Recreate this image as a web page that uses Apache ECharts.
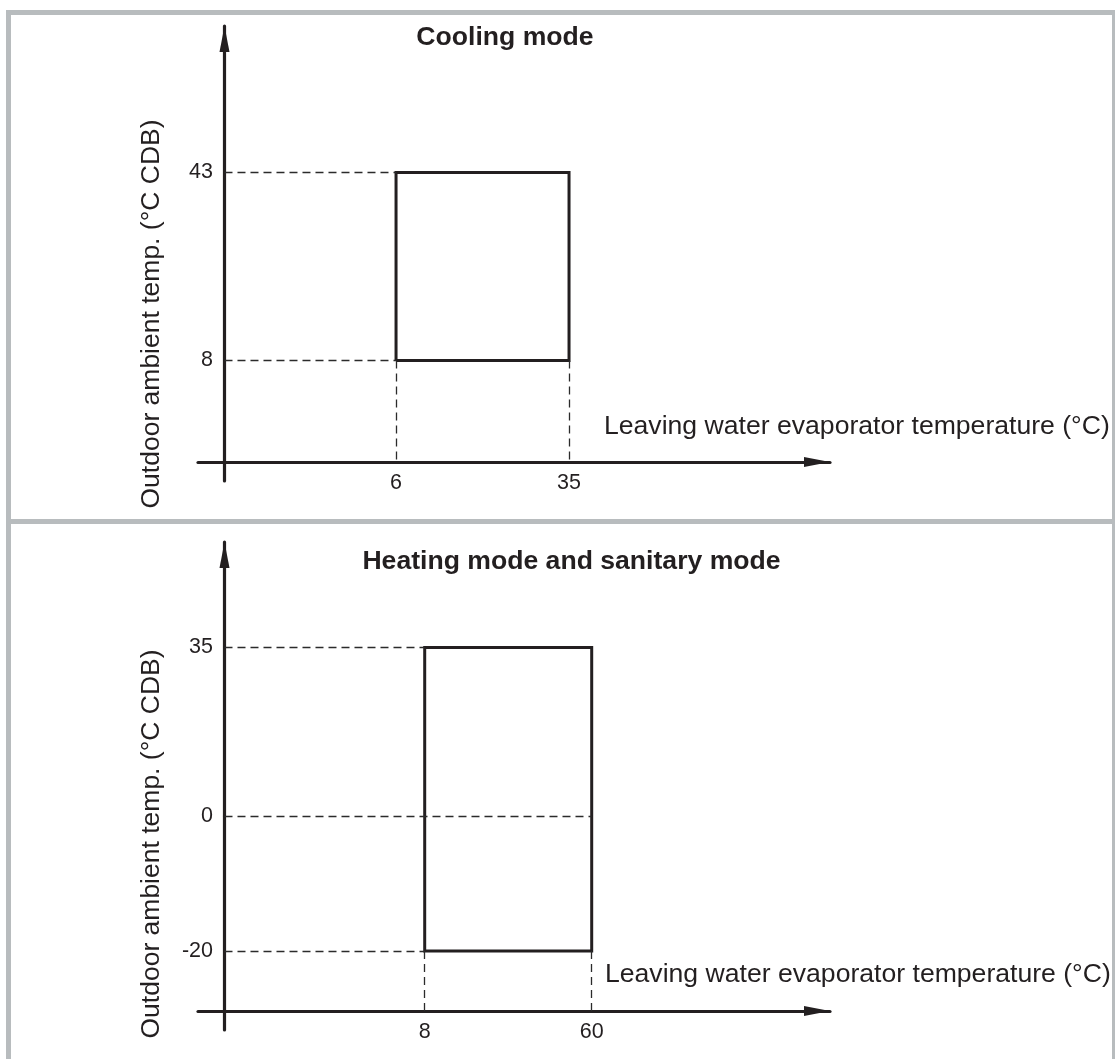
<!DOCTYPE html>
<html>
<head>
<meta charset="utf-8">
<script src="https://cdn.jsdelivr.net/npm/echarts@6/dist/echarts.min.js"></script>
<style>
  html, body { margin: 0; padding: 0; background: #ffffff; }
  #chart { width: 1115px; height: 1059px; }
</style>
</head>
<body>
<div id="chart"></div>
<script>
// Operating envelope, cooling mode
const coolingWaterTemp = [6, 35];      // leaving water, °C
const coolingAmbientTemp = [8, 43];    // outdoor ambient, °C
// Operating envelope, heating and sanitary mode
const heatingWaterTemp = [8, 60];
const heatingAmbientTemp = [-20, 35];
const heatingAmbientRef = 0;           // intermediate reference line
// Texts
const panelTitles = ['Cooling mode', 'Heating mode and sanitary mode'];
const xAxisName = 'Leaving water evaporator temperature (°C)';
const yAxisName = 'Outdoor ambient temp. (°C CDB)';

const INK = '#231f20';
const FRAME = '#b8bcbe';
const FONT = '"Liberation Sans", Arial, Helvetica, sans-serif';

// Axis extents; the axis lines cross at xCross / yCross (value units)
const coolAx = { xMin: -27.2, xMax: 78.75, yMin: -14.44, yMax: 70.28, xCross: -22.76, yCross: -10.9 };
// Heating panel uses a broken vertical scale: one grid above 0, one below
const heatAx = { xMin: -62.59, xMax: 134.2, yUpMax: 56.92, yLowMin: -31.7, xCross: -54.34, yCross: -28.89 };

function axisLineStyle(arrow) {
  return {
    show: true,
    onZero: false,
    lineStyle: { color: INK, width: 3.2 },
    symbol: arrow ? ['none', 'triangle'] : 'none',
    symbolSize: [10, 26],
    symbolOffset: [0, -13]
  };
}
function labelStyle(values, margin) {
  return { show: values.length > 0, customValues: values, color: INK, fontSize: 21.5, fontFamily: FONT, margin: margin };
}
const dashed = { color: '#2b2b2b', width: 1.3, type: [8, 5] };
function guide(a, b) { return [{ coord: a }, { coord: b }]; }
function guideSeries(xi, yi, lines) {
  return {
    type: 'line', xAxisIndex: xi, yAxisIndex: yi, data: [], silent: true, clip: false,
    markLine: { silent: true, symbol: 'none', label: { show: false }, lineStyle: dashed,
      emphasis: { disabled: true }, animation: false, data: lines }
  };
}
function outline(xi, yi, pts) {
  return {
    type: 'line', xAxisIndex: xi, yAxisIndex: yi, data: pts, symbol: 'none', silent: true, clip: false,
    lineStyle: { color: INK, width: 3, join: 'miter' }
  };
}
function txt(text, x, y, rot, align, weight, size) {
  return {
    type: 'text', silent: true, x: x, y: y, rotation: rot,
    style: {
      text: text, fill: INK, fontSize: size, fontWeight: weight, fontFamily: FONT,
      align: align, verticalAlign: 'middle', textAlign: align, textVerticalAlign: 'middle'
    }
  };
}

const [cw0, cw1] = coolingWaterTemp;
const [ca0, ca1] = coolingAmbientTemp;
const [hw0, hw1] = heatingWaterTemp;
const [ha0, ha1] = heatingAmbientTemp;
const h0 = heatingAmbientRef;

const option = {
  animation: false,
  backgroundColor: '#ffffff',
  grid: [
    { left: 198, width: 632, top: 26, height: 455 },
    { left: 198, width: 632, top: 542, height: 274 },
    { left: 198, width: 632, top: 816, height: 214 }
  ],
  xAxis: [
    { type: 'value', gridIndex: 0, min: coolAx.xMin, max: coolAx.xMax, position: 'bottom', offset: -19,
      axisLine: axisLineStyle(true), axisTick: { show: false }, splitLine: { show: false },
      axisLabel: labelStyle(coolingWaterTemp, 10) },
    { type: 'value', gridIndex: 1, min: heatAx.xMin, max: heatAx.xMax, show: false },
    { type: 'value', gridIndex: 2, min: heatAx.xMin, max: heatAx.xMax, position: 'bottom', offset: -19,
      axisLine: axisLineStyle(true), axisTick: { show: false }, splitLine: { show: false },
      axisLabel: labelStyle(heatingWaterTemp, 10) }
  ],
  yAxis: [
    { type: 'value', gridIndex: 0, min: coolAx.yMin, max: coolAx.yMax, position: 'left', offset: -26.5,
      axisLine: axisLineStyle(true), axisTick: { show: false }, splitLine: { show: false },
      axisLabel: labelStyle(coolingAmbientTemp, 11.5) },
    { type: 'value', gridIndex: 1, min: h0, max: heatAx.yUpMax, position: 'left', offset: -26.5,
      axisLine: axisLineStyle(true), axisTick: { show: false }, splitLine: { show: false },
      axisLabel: labelStyle([h0, ha1], 11.5) },
    { type: 'value', gridIndex: 2, min: heatAx.yLowMin, max: h0, position: 'left', offset: -26.5,
      axisLine: axisLineStyle(false), axisTick: { show: false }, splitLine: { show: false },
      axisLabel: labelStyle([ha0], 11.5) }
  ],
  series: [
    // Cooling panel
    guideSeries(0, 0, [
      guide([coolAx.xCross, ca1], [cw0, ca1]),
      guide([coolAx.xCross, ca0], [cw0, ca0]),
      guide([cw0, ca0], [cw0, coolAx.yCross]),
      guide([cw1, ca0], [cw1, coolAx.yCross])
    ]),
    outline(0, 0, [[cw0, ca0], [cw0, ca1], [cw1, ca1], [cw1, ca0], [cw0, ca0]]),
    // Heating panel, upper part of the scale
    guideSeries(1, 1, [
      guide([heatAx.xCross, ha1], [hw0, ha1]),
      guide([heatAx.xCross, h0], [hw1, h0])
    ]),
    outline(1, 1, [[hw0, h0], [hw0, ha1], [hw1, ha1], [hw1, h0]]),
    // Heating panel, lower part of the scale
    guideSeries(2, 2, [
      guide([heatAx.xCross, ha0], [hw0, ha0]),
      guide([hw0, ha0], [hw0, heatAx.yCross]),
      guide([hw1, ha0], [hw1, heatAx.yCross])
    ]),
    outline(2, 2, [[hw0, h0], [hw0, ha0], [hw1, ha0], [hw1, h0]])
  ],
  graphic: [
    // panel frame
    { type: 'rect', silent: true, shape: { x: 6, y: 10, width: 1109, height: 5 }, style: { fill: FRAME } },
    { type: 'rect', silent: true, shape: { x: 6, y: 10, width: 5, height: 1049 }, style: { fill: FRAME } },
    { type: 'rect', silent: true, shape: { x: 1112, y: 10, width: 3, height: 1049 }, style: { fill: FRAME } },
    { type: 'rect', silent: true, shape: { x: 6, y: 519, width: 1109, height: 5 }, style: { fill: FRAME } },
    // panel titles
    txt(panelTitles[0], 505, 37.5, 0, 'center', 'bold', 26.6),
    txt(panelTitles[1], 571.5, 561.5, 0, 'center', 'bold', 26.6),
    // axis names
    txt(xAxisName, 604, 427, 0, 'left', 'normal', 26.6),
    txt(xAxisName, 605, 975, 0, 'left', 'normal', 26.6),
    txt(yAxisName, 151.5, 314, Math.PI / 2, 'center', 'normal', 26.5),
    txt(yAxisName, 151.5, 844, Math.PI / 2, 'center', 'normal', 26.5)
  ]
};

const chart = echarts.init(document.getElementById('chart'), null, { renderer: 'canvas' });
chart.setOption(option);
</script>
</body>
</html>
